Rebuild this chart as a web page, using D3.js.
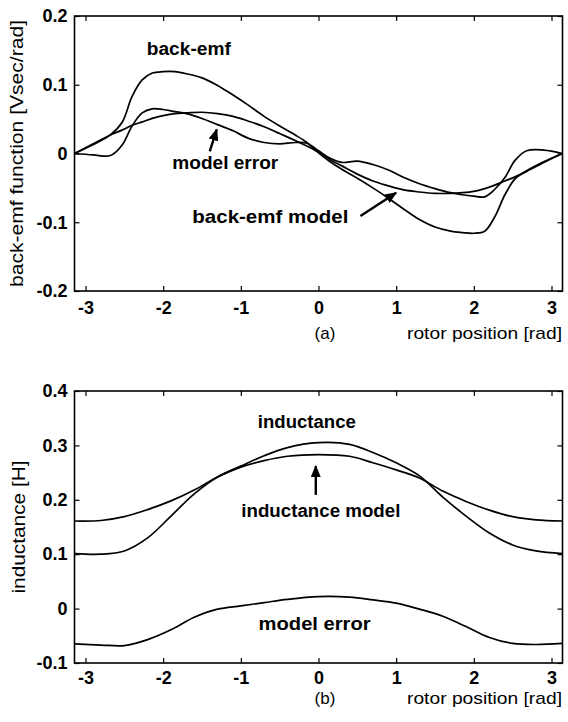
<!DOCTYPE html>
<html>
<head>
<meta charset="utf-8">
<script src="https://cdn.jsdelivr.net/npm/d3@7"></script>
<style>
  body { margin: 0; background: #fff; }
  svg { display: block; }
  text { font-family: Arial, "Liberation Sans", sans-serif; fill: #000; }
  .axis .tick text { font-size: 18px; font-weight: bold; }
  .axis .tick line { stroke: #000; stroke-width: 1.2; }
  .frame { fill: none; stroke: #000; stroke-width: 1.6; }
  .curve { fill: none; stroke: #000; stroke-width: 1.7; }
  .note { font-size: 18px; font-weight: bold; }
  .ytitle { font-size: 19px; }
  .xtitle { font-size: 17px; }
  .arrow { stroke: #000; stroke-width: 2.4; }
</style>
</head>
<body>
<svg id="chart" width="568" height="722"></svg>
<script>
// ---- panel (a): back-emf function vs rotor position
var posA = [-3.14, -2.9, -2.68, -2.53, -2.4, -2.27, -2.14, -2.0, -1.85, -1.7, -1.5, -1.3, -1.1, -0.9, -0.7, -0.5, -0.3, -0.15, 0,
            0.15, 0.3, 0.5, 0.7, 0.9, 1.1, 1.3, 1.5, 1.7, 1.85, 2.0, 2.14, 2.27, 2.4, 2.53, 2.68, 2.9, 3.14];
var emfA = [0, 0.013, 0.027, 0.045, 0.083, 0.107, 0.117, 0.119, 0.119, 0.116, 0.110, 0.099, 0.085, 0.070, 0.054, 0.040, 0.027, 0.016, 0.001,
            -0.012, -0.023, -0.036, -0.05, -0.065, -0.081, -0.096, -0.107, -0.113, -0.115, -0.116, -0.113, -0.092, -0.06, -0.037, -0.025, -0.012, 0];
var modelA = [0, 0.014, 0.027, 0.034, 0.041, 0.046, 0.051, 0.055, 0.058, 0.059, 0.06, 0.058, 0.054, 0.047, 0.039, 0.029, 0.019, 0.011, 0.002,
              -0.009, -0.018, -0.03, -0.04, -0.047, -0.053, -0.056, -0.058, -0.058, -0.057, -0.055, -0.051, -0.046, -0.04, -0.034, -0.026, -0.013, 0];
var errorA = [0, -0.002, -0.003, 0.012, 0.04, 0.059, 0.065, 0.064, 0.061, 0.058, 0.051, 0.042, 0.033, 0.022, 0.016, 0.014, 0.016, 0.015, 0.004,
              -0.007, -0.013, -0.011, -0.016, -0.024, -0.035, -0.044, -0.051, -0.057, -0.06, -0.062, -0.063, -0.052, -0.035, -0.01, 0.004, 0.005, 0];

// ---- panel (b): inductance vs rotor position
var posB = [-3.14, -2.8, -2.5, -2.2, -1.9, -1.6, -1.3, -1.0, -0.7, -0.4, 0, 0.4, 0.7, 1.0, 1.3, 1.6, 1.9, 2.2, 2.5, 2.8, 3.14];
var indB = [0.101, 0.100, 0.106, 0.130, 0.170, 0.211, 0.242, 0.262, 0.281, 0.296, 0.305, 0.302, 0.287, 0.268, 0.244, 0.205, 0.170, 0.139, 0.117, 0.106, 0.101];
var modelB = [0.161, 0.162, 0.169, 0.182, 0.198, 0.218, 0.242, 0.260, 0.272, 0.280, 0.283, 0.280, 0.268, 0.255, 0.240, 0.216, 0.197, 0.181, 0.169, 0.163, 0.161];
var errorB = [-0.065, -0.067, -0.068, -0.057, -0.039, -0.016, -0.001, 0.005, 0.011, 0.017, 0.022, 0.021, 0.016, 0.010, -0.001, -0.014, -0.033, -0.053, -0.064, -0.066, -0.064];

var xTicks = [-3, -2, -1, 0, 1, 2, 3];
var yTicksA = [-0.2, -0.1, 0, 0.1, 0.2];
var yTicksB = [-0.1, 0, 0.1, 0.2, 0.3, 0.4];

const svg = d3.select('#chart');

// arrow head
svg.append('defs').append('marker')
  .attr('id', 'head')
  .attr('markerUnits', 'userSpaceOnUse')
  .attr('viewBox', '0 0 12 10')
  .attr('markerWidth', 12)
  .attr('markerHeight', 10)
  .attr('refX', 11)
  .attr('refY', 5)
  .attr('orient', 'auto')
  .append('path')
  .attr('d', 'M0,0 L12,5 L0,10 Z')
  .attr('fill', '#000');

function createPanel(cfg) {
  const x = d3.scaleLinear().domain([-Math.PI, Math.PI]).range([74.5, 562.5]);
  const y = d3.scaleLinear().domain(cfg.yDomain).range([cfg.bottom, cfg.top]);
  const g = svg.append('g');

  // axes, ticks pointing inward like matlab
  g.append('g').attr('class', 'axis')
    .attr('transform', `translate(0,${cfg.bottom})`)
    .call(d3.axisBottom(x).tickValues(xTicks).tickSizeInner(-5).tickSizeOuter(0).tickPadding(cfg.tickPad)
      .tickFormat(d => String(d)))
    .call(a => a.select('.domain').remove());
  g.append('g').attr('class', 'axis')
    .attr('transform', `translate(0,${cfg.top})`)
    .call(d3.axisTop(x).tickValues(xTicks).tickSizeInner(-5).tickSizeOuter(0).tickFormat(''))
    .call(a => a.select('.domain').remove());
  g.append('g').attr('class', 'axis')
    .attr('transform', `translate(74.5,0)`)
    .call(d3.axisLeft(y).tickValues(cfg.yTicks).tickSizeInner(-5).tickSizeOuter(0).tickPadding(7)
      .tickFormat(d => String(d)))
    .call(a => a.select('.domain').remove());
  g.append('g').attr('class', 'axis')
    .attr('transform', `translate(562.5,0)`)
    .call(d3.axisRight(y).tickValues(cfg.yTicks).tickSizeInner(-5).tickSizeOuter(0).tickFormat(''))
    .call(a => a.select('.domain').remove());

  g.append('rect').attr('class', 'frame')
    .attr('x', x.range()[0]).attr('y', cfg.top)
    .attr('width', x.range()[1] - x.range()[0])
    .attr('height', cfg.bottom - cfg.top);

  // curves
  const line = d3.line()
    .x(d => x(d[0]))
    .y(d => y(d[1]))
    .curve(d3.curveCatmullRom.alpha(0.5));
  cfg.series.forEach(function(s) {
    g.append('path').attr('class', 'curve')
      .attr('d', line(cfg.pos.map((p, i) => [p, s[i]])));
  });

  // labels inside the plot
  cfg.notes.forEach(function(n) {
    g.append('text').attr('class', 'note')
      .attr('x', x(n.x)).attr('y', y(n.y))
      .attr('text-anchor', 'middle')
      .attr('textLength', n.len).attr('lengthAdjust', 'spacingAndGlyphs')
      .text(n.text);
  });
  cfg.arrows.forEach(function(a) {
    g.append('line').attr('class', 'arrow')
      .attr('x1', x(a[0])).attr('y1', y(a[1]))
      .attr('x2', x(a[2])).attr('y2', y(a[3]))
      .attr('marker-end', 'url(#head)');
  });

  // axis titles
  g.append('text').attr('class', 'ytitle')
    .attr('transform', `translate(${cfg.yTitleX},${(cfg.top + cfg.bottom) / 2}) rotate(-90)`)
    .attr('text-anchor', 'middle')
    .attr('textLength', cfg.yTitleLen).attr('lengthAdjust', 'spacingAndGlyphs')
    .text(cfg.yTitle);
  g.append('text').attr('class', 'xtitle')
    .attr('x', 325).attr('y', cfg.bottom + cfg.capGap)
    .attr('text-anchor', 'middle')
    .text(cfg.tag);
  g.append('text').attr('class', 'xtitle')
    .attr('x', 562).attr('y', cfg.bottom + cfg.capGap)
    .attr('text-anchor', 'end')
    .attr('textLength', 155).attr('lengthAdjust', 'spacingAndGlyphs')
    .text('rotor position [rad]');
}

createPanel({
  top: 16, bottom: 291, yDomain: [-0.2, 0.2], yTicks: yTicksA,
  pos: posA, series: [emfA, modelA, errorA],
  yTitle: 'back-emf function [Vsec/rad]', yTitleX: 23, yTitleLen: 267,
  tag: '(a)', capGap: 48, tickPad: 10,
  notes: [
    {text: 'back-emf', x: -1.67, y: 0.143, len: 84},
    {text: 'model error', x: -1.2, y: -0.023, len: 106},
    {text: 'back-emf model', x: -0.62, y: -0.101, len: 156}
  ],
  arrows: [[-1.40, 0.003, -1.31, 0.035], [0.54, -0.091, 1.0, -0.057]]
});

createPanel({
  top: 391, bottom: 663, yDomain: [-0.1, 0.4], yTicks: yTicksB,
  pos: posB, series: [indB, modelB, errorB],
  yTitle: 'inductance [H]', yTitleX: 25, yTitleLen: 133,
  tag: '(b)', capGap: 41, tickPad: 8,
  notes: [
    {text: 'inductance', x: -0.15, y: 0.332, len: 98},
    {text: 'inductance model', x: 0.03, y: 0.168, len: 159},
    {text: 'model error', x: -0.05, y: -0.039, len: 112}
  ],
  arrows: [[-0.035, 0.209, -0.035, 0.262]]
});
</script>
</body>
</html>
